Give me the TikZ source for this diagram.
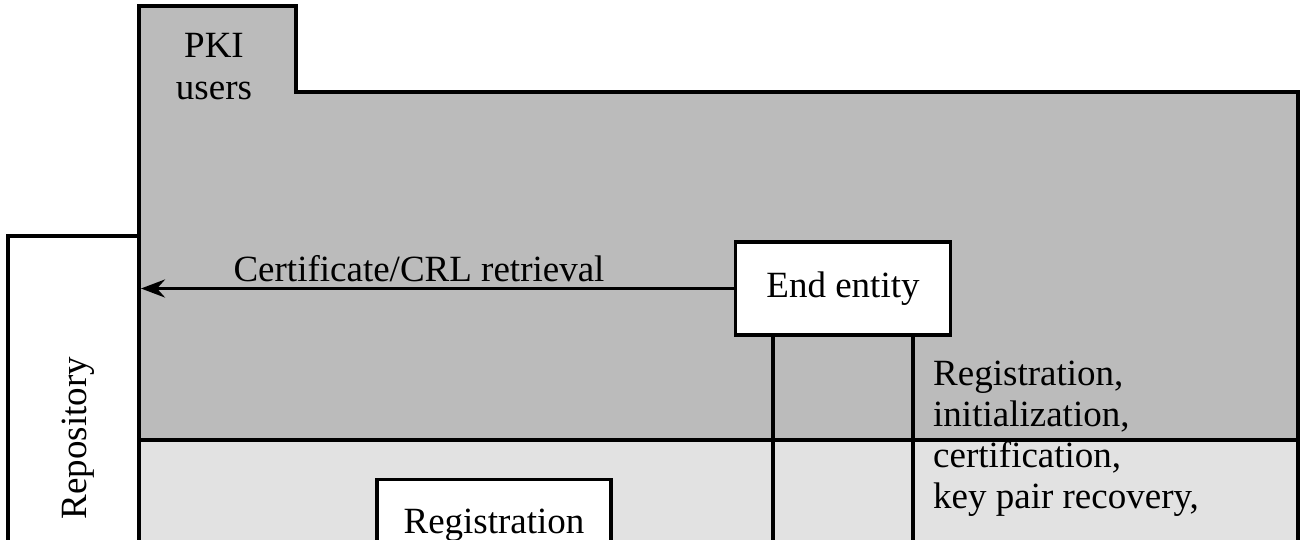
\documentclass[tikz,border=0pt]{standalone}
\usepackage{fontspec}
\setmainfont{Liberation Serif}
\usetikzlibrary{arrows.meta}
\definecolor{usergray}{HTML}{BBBBBB}
\definecolor{mgmtgray}{HTML}{E2E2E2}
\tikzset{
  frame/.style={line width=3.4pt, draw=black},
  whitebox/.style={draw=black, line width=3.4pt, fill=white, inner sep=0pt},
  lbl/.style={font=\fontsize{37}{42}\selectfont, inner sep=0pt},
  conn/.style={line width=3.4pt, draw=black},
  arr/.style={conn, -{Stealth[length=24pt, width=18pt, inset=8pt]}}
}
\begin{document}
\begin{tikzpicture}[x=1pt, y=-1pt]
\useasboundingbox (0,0) rectangle (1303,539);
% PKI users region
\fill[usergray] (139,6) -- (296,6) -- (296,92) -- (1298,92) -- (1298,440) -- (139,440) -- cycle;
% management region
\fill[mgmtgray] (139,440) rectangle (1298,560);
% repository
\fill[white] (8,236) rectangle (139,560);
\draw[frame] (8,560) -- (8,236) -- (139,236);
% outlines
\draw[frame] (139,560) -- (139,6) -- (296,6) -- (296,92) -- (1298,92) -- (1298,560);
\draw[frame] (139,440) -- (1298,440);
% labels
\node[lbl, align=center] (pki) at (214,67) {PKI\\users};
\node[lbl, rotate=90, anchor=base] (repo) at (86,438) {Repository};
% end entity
\node[whitebox, lbl, minimum width=215pt, minimum height=93pt] (ee) at (843,288.5) {\raisebox{-2pt}{End entity}};
\coordinate (repoedge) at (141,288.5);
\draw[arr] (ee.west) -- (repoedge);
\node[lbl, anchor=base] (crl) at (419,281) {Certificate/CRL retrieval};
% vertical connectors below end entity
\coordinate (v1) at (773,560);
\coordinate (v2) at (913,560);
\draw[conn] (ee.south -| v1) -- (v1);
\draw[conn] (ee.south -| v2) -- (v2);
\node[lbl, anchor=north west, align=left, font=\fontsize{37}{41}\selectfont] (reg) at (933,361) {Registration,\\initialization,\\certification,\\key pair recovery,};
% registration authority box
\node[whitebox, lbl, anchor=north, minimum width=234pt, inner ysep=29pt] (ra) at (494,478) {Registration};
\end{tikzpicture}
\end{document}
